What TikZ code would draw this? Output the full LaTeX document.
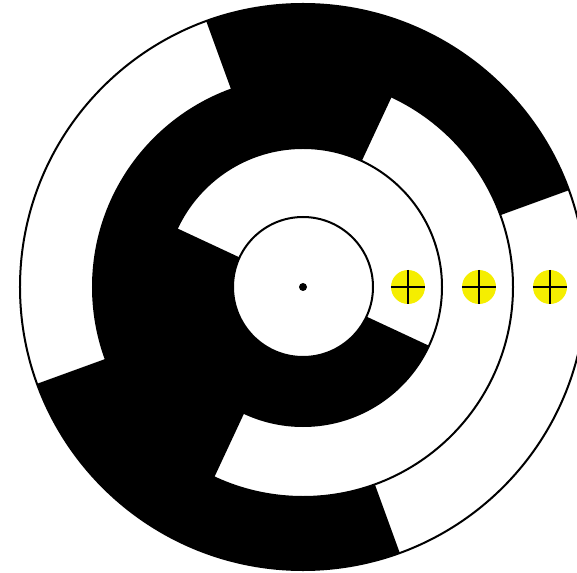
\documentclass[tikz,border=0pt]{standalone}
\usepackage{tikz}
\usetikzlibrary{positioning}

\definecolor{sensoryellow}{RGB}{245,238,0}
\tikzset{
  ring/.style={draw=black, line width=2pt},
  sensor/.style={circle, fill=sensoryellow, minimum size=34pt, inner sep=0pt},
  cross/.style={draw=black, line width=1.5pt}
}

\begin{document}
\begin{tikzpicture}[x=1pt, y=1pt]
    \useasboundingbox (-303,-285) rectangle (274,287);
    \coordinate (c) at (0,0);
    % black tracks: start/end angle, inner/outer radius
    \foreach \a/\b/\r/\R in {20/110/210/283, 200/290/210/283, 65/245/139/210, 155/335/70/139}
      \fill[black] (\a:\r) arc[start angle=\a, end angle=\b, radius=\r]
        -- (\b:\R) arc[start angle=\b, end angle=\a, radius=\R] -- cycle;
    \foreach \r in {70,139,210,283}
      \draw[ring] (c) circle[radius=\r];
    \fill[black] (c) circle[radius=4];
    % read heads
    \foreach \n/\x in {1/105, 2/176, 3/247} {
      \node[sensor] (s\n) at (\x,0) {};
      \draw[cross] (s\n.north) -- (s\n.south);
      \draw[cross] (s\n.west) -- (s\n.east);
    }
  \end{tikzpicture}
\end{document}
